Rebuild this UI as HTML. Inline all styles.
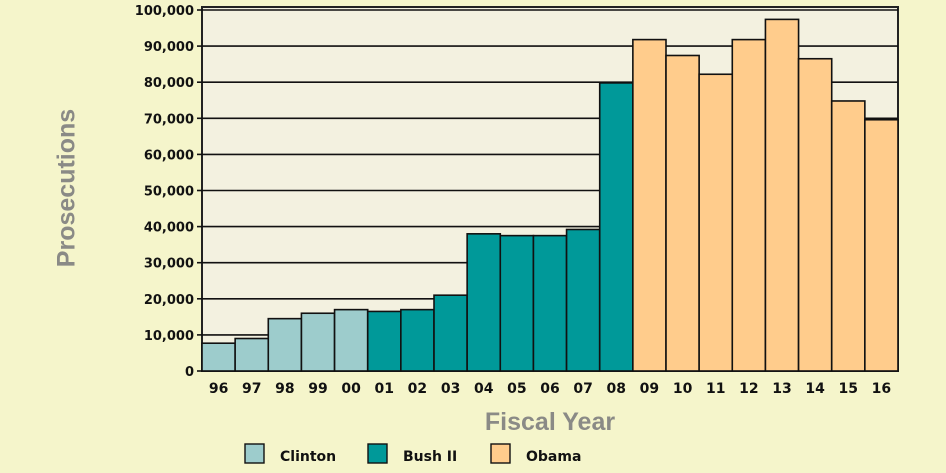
<!DOCTYPE html><html><head><style>body{margin:0;background:#f5f5cb;}svg{display:block}</style></head><body>
<svg width="946" height="473" xmlns="http://www.w3.org/2000/svg" font-family="Liberation Sans, sans-serif">
<rect width="946" height="473" fill="#f5f5cb"/>
<rect x="202" y="7" width="696" height="364" fill="#f3f1e0" stroke="#222" stroke-width="2"/>
<g id="grid" stroke="#111" stroke-width="1.6"></g>
<g id="bars" stroke="#111" stroke-width="1.6"></g>
<g id="ticks" font-size="13" font-weight="bold" fill="#111" font-family="DejaVu Sans, sans-serif"></g>
<text x="68" y="188" transform="rotate(-90 68 188)" text-anchor="middle" dominant-baseline="middle" font-size="25" font-weight="bold" fill="#8a8a86">Prosecutions</text>
<text x="550" y="430" text-anchor="middle" font-size="25" font-weight="bold" fill="#8a8a86">Fiscal Year</text>
<g font-family="DejaVu Sans, sans-serif" font-size="14" font-weight="bold" fill="#111">
<rect x="245" y="444" width="19" height="19" fill="#9dcccc" stroke="#111" stroke-width="1.4"/>
<text x="280" y="461">Clinton</text>
<rect x="368" y="444" width="19" height="19" fill="#009999" stroke="#111" stroke-width="1.4"/>
<text x="403" y="461">Bush II</text>
<rect x="491" y="444" width="19" height="19" fill="#ffcc8c" stroke="#111" stroke-width="1.4"/>
<text x="526" y="461">Obama</text>
</g>
</svg>
<script>
const ns="http://www.w3.org/2000/svg";
function el(p,t,a,txt){const e=document.createElementNS(ns,t);for(const k in a)e.setAttribute(k,a[k]);if(txt)e.textContent=txt;document.getElementById(p).appendChild(e);}
const y0=371,s=3.61/1000;
for(let i=0;i<=10;i++){const y=y0-i*10000*s;
 if(i>0)el('grid','line',{x1:202,x2:898,y1:y,y2:y});
 el('grid','line',{x1:197,x2:202,y1:y,y2:y});
 el('ticks','text',{x:194,y:y+5,'text-anchor':'end'},(i*10000).toLocaleString('en-US'));}
const v=[7700,9000,14500,16000,17000,16500,17000,21000,38000,37500,37500,39200,79800,91800,87400,82200,91800,97400,86500,74800,69600];
const lb=['96','97','98','99','00','01','02','03','04','05','06','07','08','09','10','11','12','13','14','15','16'];
const w=696/21;
v.forEach((d,i)=>{const c=i<5?'#9dcccc':i<13?'#009999':'#ffcc8c';const h=d*s;
 el('bars','rect',{x:202+i*w,y:y0-h,width:w,height:h,fill:c});
 el('ticks','text',{x:202+i*w+w/2,y:393,'text-anchor':'middle','font-size':14},lb[i]);});
</script>
</body></html>
